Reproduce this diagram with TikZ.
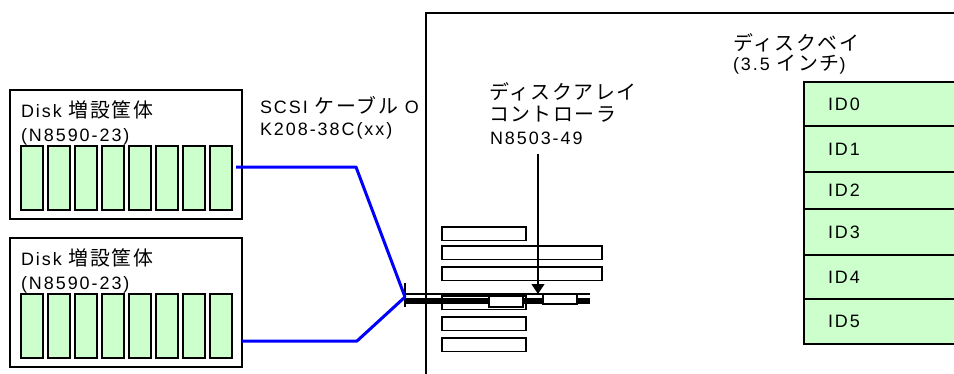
\documentclass[tikz,border=0pt]{standalone}
\usepackage{fontspec}
\setmainfont{Liberation Sans}[LetterSpace=11]
\newfontfamily\jpfont{Noto Sans CJK JP}[Scale=1.11,LetterSpace=8]
\newcommand{\jp}[1]{{\jpfont #1}}
\usetikzlibrary{arrows.meta}
\definecolor{bayGreen}{HTML}{CCFFCC}
\definecolor{cableBlue}{HTML}{0000FF}
\tikzstyle{arrayboxes}=[%
	every path/.style = {%
		black,
		line width=2bp
	},%
	every node/.style = {%
		inner sep=0pt,
		font=\fontsize{18}{22}\selectfont
	},%
	myLabel/.style={%
		anchor=base west
	},
	mySlot/.style={%
		fill=bayGreen,
		line width=1.6bp
	},
	myCard/.style={%
		fill=white,
		line width=1.6bp
	},
	myCable/.style={%
		cableBlue,
		line width=3bp,
		line join=round
	}
]

\begin{document}
\begin{tikzpicture}[
	x=1bp,
	y=-1bp,
	arrayboxes
]
	\useasboundingbox[fill=white] (0,0) rectangle (954,373);

	% disk enclosures
	\foreach \dy/\nm in {0/A, 148/B} {
		\begin{scope}[shift={(0,\dy)}]
			\draw (10,90) rectangle (242,219);
			\foreach \x in {21,48,...,210} {
				\draw[mySlot] (\x,146) rectangle ++(22,64);
			}
			\node[myLabel] (title\nm) at (20,117) {Disk \jp{増設筐体}};
			\node[myLabel] (model\nm) at (20,141) {(N8590-23)};
		\end{scope}
	}

	\node[myLabel] (scsiName) at (259,113) {SCSI \jp{ケーブル} O};
	\node[myLabel] (scsiModel) at (259,135) {K208-38C(xx)};

	% server frame
	\draw (426,380) |- (960,13);

	\node[myLabel] (ctrlName) at (488,99) {\jp{ディスクアレイ}};
	\node[myLabel] (ctrlKind) at (488,121) {\jp{コントローラ}};
	\node[myLabel] (ctrlModel) at (489,144) {N8503-49};

	% cards
	\foreach \ya/\xb in {227/526, 246/602, 267/602, 296/526, 317/526, 338/526} {
		\draw[myCard] (442,\ya) rectangle (\xb,\ya+13.5);
	}

	% scsi bus
	\coordinate (scsiPort) at (405,297);
	\draw[line width=1.2bp] (405,294) -- (590,294);
	\fill (405,298) rectangle (590,304);
	\draw (405,283) -- (405,307);
	\draw[myCard] (489,296) rectangle (523,307);
	\draw[myCard] (543,294) rectangle (577,304);

	\coordinate (ctrlTop) at (538,154);
	\coordinate (ctrlTip) at (538,294);
	\draw[line width=1.2bp, -{Triangle[width=13bp,length=10bp]}] (ctrlTop) -- (ctrlTip);

	% cables
	\coordinate (cabA) at (236,167);
	\coordinate (cabB) at (242,341);
	\draw[myCable] (cabA) -- (356,167) -- (scsiPort);
	\draw[myCable] (cabB) -- (357,341) -- (scsiPort);

	% disk bay
	\node[myLabel] (bayName) at (732,50) {\jp{ディスクベイ}};
	\node[myLabel] (baySize) at (732,70) {(3.5 \jp{インチ})};

	\foreach \ya/\yb [count=\i from 0] in {82/126, 126/172, 172/209, 209/255, 255/299, 299/344} {
		\draw[mySlot, line width=2bp] (804,\ya) rectangle (960,\yb);
		\node[anchor=west] (id\i) at (827,{(\ya+\yb)/2}) {ID\i};
	}
\end{tikzpicture}
\end{document}
